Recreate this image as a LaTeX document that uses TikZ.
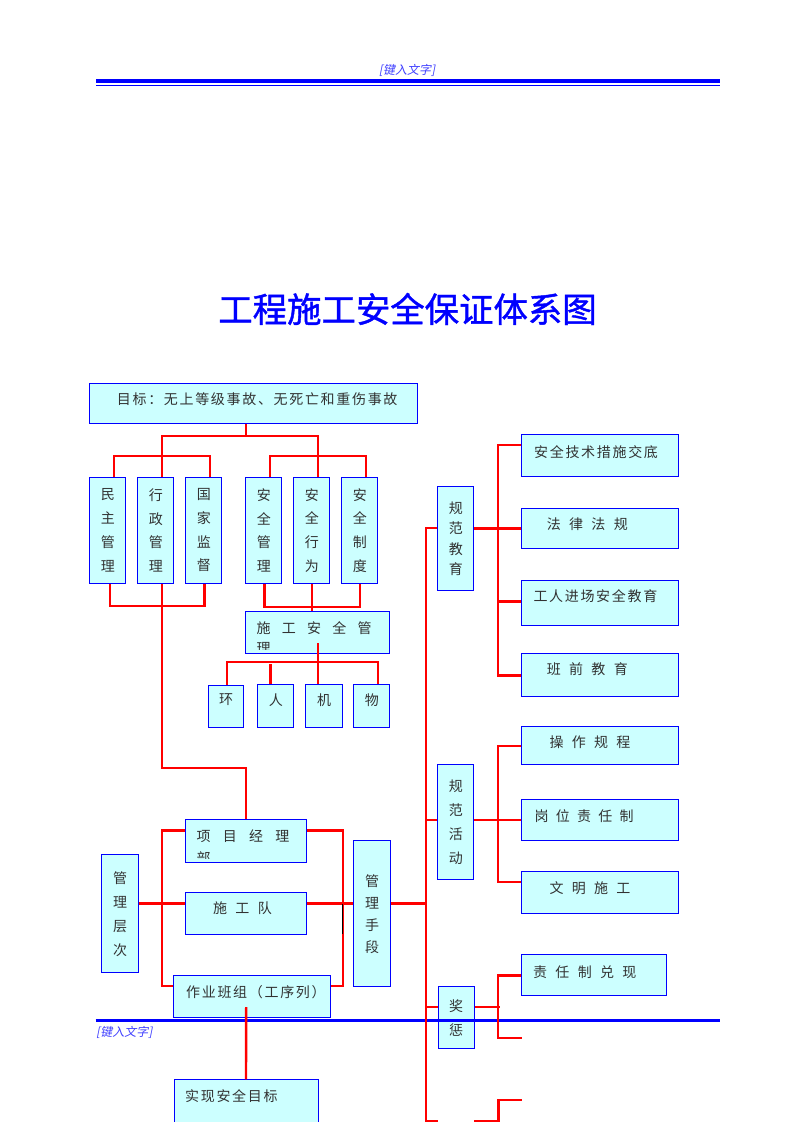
\documentclass[tikz,border=0pt]{standalone}
\usepackage{fontspec}
\newfontfamily\cjk[LetterSpace=12]{Noto Sans CJK SC}
\newfontfamily\cjkt[FakeBold=1.2]{Noto Sans CJK SC}
\newfontfamily\cjkit[FakeSlant=0.2]{Noto Sans CJK SC}
\definecolor{boxcyan}{RGB}{204,255,255}
\definecolor{txtgray}{RGB}{50,50,50}
\newcommand\sk[1][8.3]{\hspace{#1pt}}

\tikzset{
  tbox/.style={draw=blue, line width=1pt, fill=boxcyan, inner sep=0pt, anchor=north west},
  vtbox/.style={tbox, align=center, text=txtgray, font=\cjk\fontsize{14}{#1}\selectfont},
  txt/.style={font=\cjk\fontsize{14}{17}\selectfont, text=txtgray, inner sep=0pt, anchor=west},
  link/.style={red, line width=2.4pt},
  hdr/.style={font=\cjkit\fontsize{12}{14}\selectfont, text=blue!75, inner sep=0pt}
}

\begin{document}
\begin{tikzpicture}[x=1pt, y=-1pt]
    % page
    \fill[white] (0,0) rectangle (793,1122);
    \useasboundingbox (0,0) rectangle (793,1122);

    % header
    \node[hdr] (hd) at (407,70) {[键入文字]};
    \draw[blue, line width=4.3pt] (96,80.8) -- (720,80.8);
    \draw[blue, line width=1.2pt] (96,85.3) -- (720,85.3);

    % title
    \node[font=\cjkt\fontsize{34.4}{40}\selectfont, text=blue, inner sep=0pt] (title)
        at (407.5,309) {工程施工安全保证体系图};

    % goal
    \node[tbox, minimum width=327.7, minimum height=40.3] (goal) at (89.3,382.7) {};
    \node[txt] (goal-t) at ([shift={(27.4,16.3)}]goal.north west)
        {目标：无上等级事故、无死亡和重伤事故};

    % six columns
    \node[vtbox=23.7, minimum width=36, minimum height=106.3] (mz) at (89.3,476.7) {民\\主\\管\\理};
    \node[vtbox=23.7, minimum width=36, minimum height=106.3] (xz) at (137.3,476.7) {行\\政\\管\\理};
    \node[vtbox=23.7, minimum width=36, minimum height=106.3] (gj) at (185.3,476.7) {国\\家\\监\\督};
    \node[vtbox=23.7, minimum width=36, minimum height=106.3] (aqgl) at (245.3,476.7) {安\\全\\管\\理};
    \node[vtbox=23.7, minimum width=36, minimum height=106.3] (aqxw) at (293.3,476.7) {安\\全\\行\\为};
    \node[vtbox=23.7, minimum width=36, minimum height=106.3] (aqzd) at (341.3,476.7) {安\\全\\制\\度};

    % construction safety management (text cut off)
    \node[tbox, minimum width=144, minimum height=42] (sg) at (245.3,611.3) {};
    \begin{scope}
        \clip (sg.north west) rectangle ([shift={(0,-4.8)}]sg.south east);
        \node[txt, anchor=base west, align=left, font=\cjk\fontsize{14}{20.5}\selectfont] (sg-t)
            at ([shift={(11,42.5)}]sg.north west)
            {施\sk[11.3]工\sk[11.3]安\sk[11.3]全\sk[11.3]管\\理};
    \end{scope}

    % environment, people, machines, materials
    \node[tbox, minimum width=34.4, minimum height=41.4] (huan) at (208.3,685.3) {};
    \node[txt, anchor=center] (huan-t) at ([shift={(0,14.7)}]huan.north) {环};
    \node[tbox, minimum width=36, minimum height=42.7] (ren) at (257.3,684) {};
    \node[txt, anchor=center] (ren-t) at ([shift={(0,16)}]ren.north) {人};
    \node[tbox, minimum width=36.4, minimum height=42.7] (ji) at (305.3,684) {};
    \node[txt, anchor=center] (ji-t) at ([shift={(0,16)}]ji.north) {机};
    \node[tbox, minimum width=36, minimum height=42.7] (wu) at (353.3,684) {};
    \node[txt, anchor=center] (wu-t) at ([shift={(0,16)}]wu.north) {物};

    % management levels
    \node[tbox, minimum width=120.4, minimum height=43] (xm) at (185.3,819.3) {};
    \begin{scope}
        \clip (xm.north west) rectangle ([shift={(0,-4.8)}]xm.south east);
        \node[txt, anchor=base west, align=left, font=\cjk\fontsize{14}{22}\selectfont] (xm-t)
            at ([shift={(11,44)}]xm.north west)
            {项\sk[12.3]目\sk[12.3]经\sk[12.3]理\\部};
    \end{scope}
    \node[tbox, minimum width=120.4, minimum height=42] (sgd) at (185.3,892.3) {};
    \node[txt] (sgd-t) at ([shift={(27.7,15.4)}]sgd.north west) {施\sk 工\sk 队};
    \node[tbox, minimum width=156.4, minimum height=42] (zy) at (173.3,975.3) {};
    \node[txt] (zy-t) at ([shift={(12.7,16.4)}]zy.north west) {作业班组（工序列）};
    \node[tbox, minimum width=144, minimum height=42.7] (sx) at (173.5,1079.3) {};
    \node[txt] (sx-t) at ([shift={(11.5,16.4)}]sx.north west) {实现安全目标};
    \node[vtbox=24, minimum width=36.4, minimum height=118] (glcc) at (101.3,854.3) {管\\理\\层\\次};
    \node[vtbox=22, minimum width=36.4, minimum height=146] (glsd) at (353.3,840.3) {管\\理\\手\\段};

    % right side
    \node[vtbox=20.6, minimum width=36, minimum height=104] (gfjy) at (437.3,486.3) {规\\范\\教\\育};
    \node[vtbox=24.2, minimum width=36, minimum height=115.3] (gfhd) at (437.3,764) {规\\范\\活\\动};
    \node[vtbox=24.3, minimum width=36, minimum height=62] (jc) at (437.6,986.3) {奖\\惩};

    \node[tbox, minimum width=156.4, minimum height=42] (aq) at (521.3,434.3) {};
    \node[txt] (aq-t) at ([shift={(12.7,17.7)}]aq.north west) {安全技术措施交底};
    \node[tbox, minimum width=156.4, minimum height=40.6] (fl) at (521.3,507.7) {};
    \node[txt] (fl-t) at ([shift={(25.4,16.6)}]fl.north west) {法\sk 律\sk 法\sk 规};
    \node[tbox, minimum width=156.4, minimum height=45] (gr) at (521.3,580.3) {};
    \node[txt] (gr-t) at ([shift={(12,15.4)}]gr.north west) {工人进场安全教育};
    \node[tbox, minimum width=156.4, minimum height=43] (bq) at (521.3,653.3) {};
    \node[txt] (bq-t) at ([shift={(25.4,16)}]bq.north west) {班\sk 前\sk 教\sk 育};

    \node[tbox, minimum width=156.4, minimum height=38] (cz) at (521.3,726.3) {};
    \node[txt] (cz-t) at ([shift={(28,15.7)}]cz.north west) {操\sk 作\sk 规\sk 程};
    \node[tbox, minimum width=156.4, minimum height=41.3] (gw) at (521.3,798.7) {};
    \node[txt] (gw-t) at ([shift={(13,17.3)}]gw.north west) {岗\sk[7.3]位\sk[7.3]责\sk[7.3]任\sk[7.3]制};
    \node[tbox, minimum width=156.4, minimum height=42] (wm) at (521.3,871.3) {};
    \node[txt] (wm-t) at ([shift={(28,17)}]wm.north west) {文\sk 明\sk 施\sk 工};

    \node[tbox, minimum width=144.5, minimum height=41] (zr) at (521.2,954.3) {};
    \node[txt] (zr-t) at ([shift={(11.8,18)}]zr.north west) {责\sk 任\sk 制\sk 兑\sk 现};

    % footer
    \draw[blue, line width=3pt] (95.5,1020.5) -- (720,1020.5);
    \node[hdr, anchor=west] (ft) at (96,1032) {[键入文字]};

    % goal to the six columns
    \draw[link] ([shift={(-7.5,0)}]goal.south) -- ++(0,12) coordinate (j1);
    \draw[link] ([shift={(6.4,0)}]xz.north) |- (j1) -| ([shift={(6.4,0)}]aqxw.north);
    \draw[link] ([shift={(6.4,0)}]mz.north) -- ++(0,-20.7) -| ([shift={(6.4,0)}]gj.north);
    \draw[link] ([shift={(6.4,0)}]aqgl.north) -- ++(0,-20.7) -| ([shift={(6.4,0)}]aqzd.north);

    % below the columns
    \draw[link] ([shift={(2,0)}]mz.south) -- ++(0,22) -| ([shift={(0.7,0)}]gj.south);
    \draw[link] ([shift={(0.7,0)}]aqgl.south) -- ++(0,22.7) -| ([shift={(0.4,0)}]aqzd.south);
    \draw[link] (aqxw.south) -- (sg.north -| aqxw.south);
    \draw[link] ([shift={(6.4,0)}]xz.south) -- ++(0,183.7) -| (xm.north);

    % to environment, people, machines, materials
    \draw[link] ([shift={(0,31.7)}]sg.north) -- (ji.north -| sg.north);
    \draw[link] ([shift={(1.2,0)}]huan.north) -- ++(0,-23.6) -| ([shift={(6.4,0)}]wu.north);
    \draw[link] ([shift={(-5.3,0)}]ren.north) -- ++(0,-20);

    % management block
    \draw[link] ([shift={(0,-10.8)}]xm.west) -- ++(-23.6,0) |- ([shift={(0,-10.6)}]zy.west);
    \draw[link] ([shift={(0,-10.8)}]xm.east) -- ++(36,0) |- ([shift={(0,-10.6)}]zy.east);
    \draw[link] ([shift={(0,-10.3)}]glcc.east) -- ([shift={(0,-10.3)}]sgd.west);
    \draw[link] ([shift={(0,-10.3)}]sgd.east) -- ([shift={(0,-10.3)}]glsd.west);
    \draw[link] ([shift={(0,-10.3)}]glsd.east) -- ++(36.3,0);
    \draw[black, line width=0.8pt] ([shift={(36,-10.3)}]sgd.east) -- ++(0,30);
    \draw[link] ([shift={(-5.8,31.7)}]zy.north) -- (sx.north);

    % main vertical line
    \coordinate (spine) at (426,1121);
    \draw[link] ([shift={(0,-10.6)}]gfjy.west) -| (spine) -- ++(12,0);
    \draw[link] ([shift={(0,-2.4)}]gfhd.west) -- ++(-11.3,0);
    \draw[link] ([shift={(0,-11)}]jc.west) -- ++(-11.6,0);

    % education group
    \draw[link] (fl.west -| gfjy.east) -- (fl.west);
    \draw[link] ([shift={(0,-10.6)}]aq.west) -- ++(-23.3,0) |- (bq.west);
    \draw[link] ([shift={(0,-1.8)}]gr.west) -- ++(-23.3,0);

    % activity group
    \draw[link] (gw.west -| gfhd.east) -- (gw.west);
    \draw[link] (cz.west) -- ++(-23.3,0) |- ([shift={(0,-10.6)}]wm.west);

    % reward and penalty group
    \coordinate (jc-b) at (521.6,1037.7);
    \coordinate (jc-c) at (474.3,1121);
    \coordinate (jc-d) at (521.6,1100);
    \draw[link] ([shift={(0,-11)}]jc.east) -- ++(24.9,0);
    \draw[link] (zr.west) -- ++(-23.3,0) |- (jc-b);
    \draw[link] (jc-c) -- ++(24.1,0) |- (jc-d);
\end{tikzpicture}
\end{document}
